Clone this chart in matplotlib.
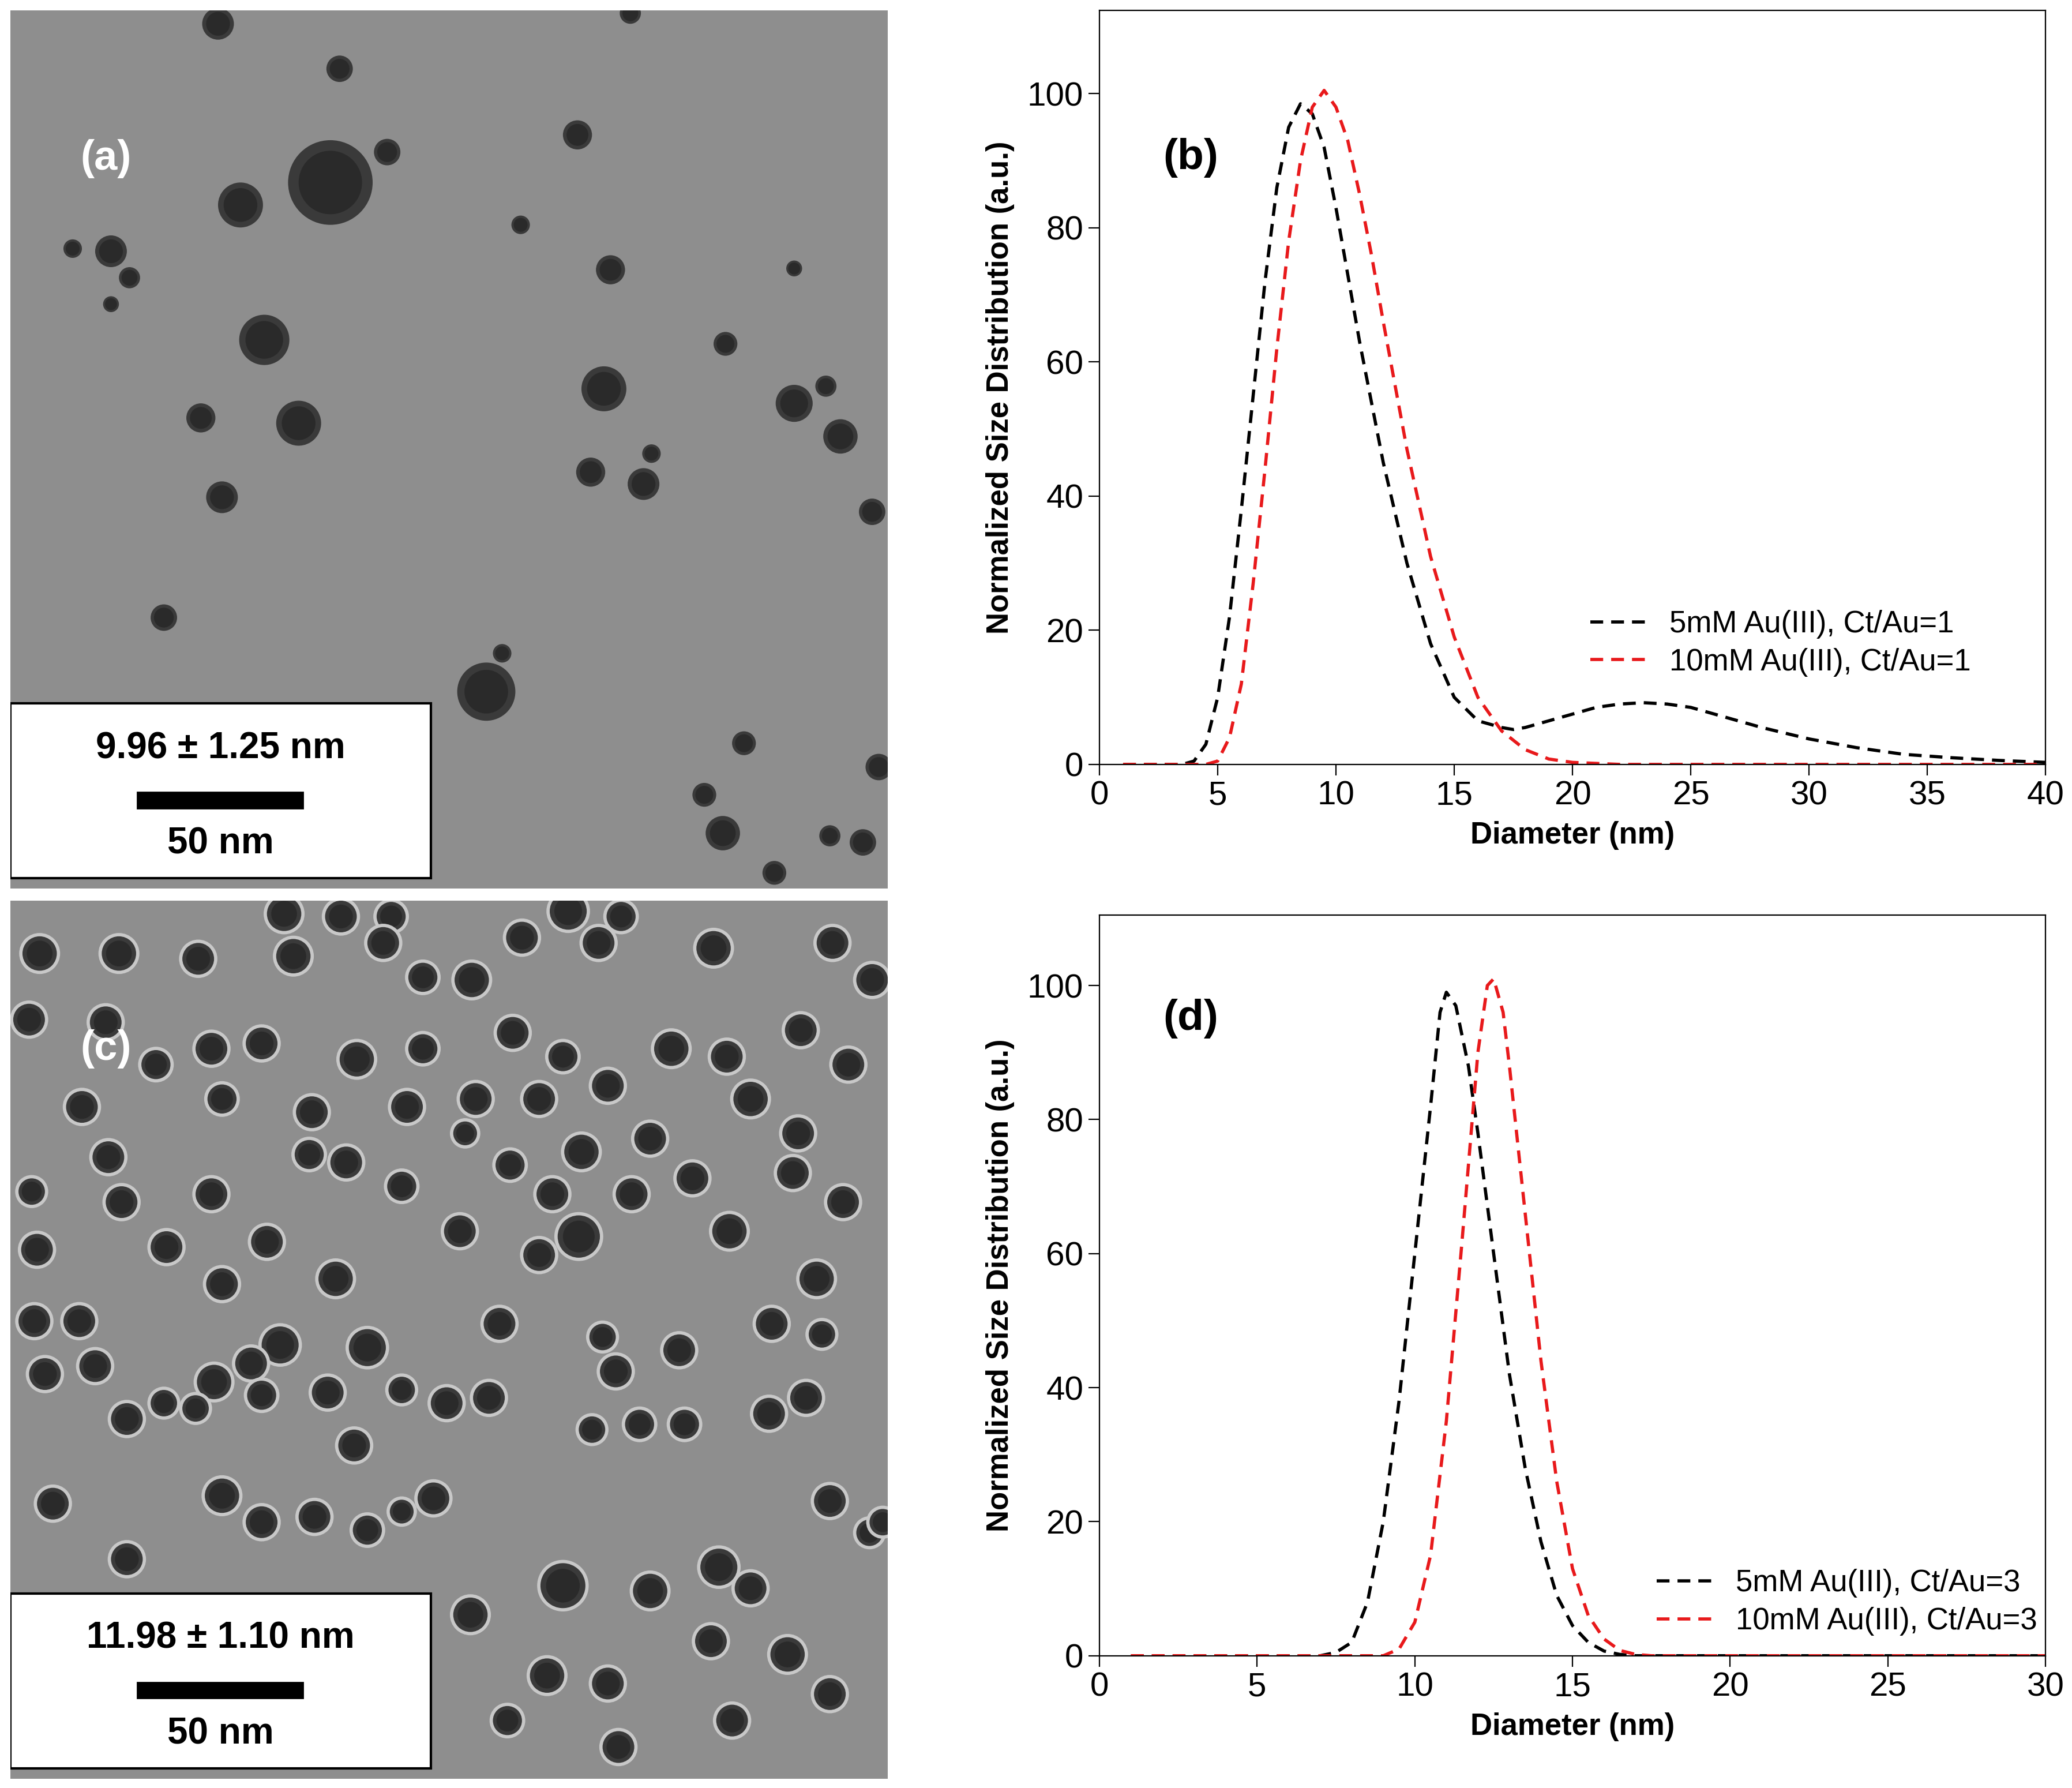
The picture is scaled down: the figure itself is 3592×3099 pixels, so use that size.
import numpy as np
import matplotlib.pyplot as plt
from matplotlib.patches import Circle, Rectangle

# ---- size distribution data ----
b_blk_x = [1, 3.5, 4, 4.5, 5, 5.5, 6, 6.5, 7, 7.5, 8, 8.5, 9, 9.5, 10, 10.5, 11, 12, 13, 14, 15, 16, 17, 17.5,
           18, 19, 20, 21, 22, 23, 24, 25, 26, 27, 28, 30, 32, 34, 36, 38, 40]
b_blk_y = [0, 0, 0.5, 3, 10, 22, 38, 55, 72, 86, 95, 98.5, 97, 92, 83, 73, 63, 45, 30, 18, 10, 6.5, 5.5, 5.2,
           5.5, 6.5, 7.5, 8.5, 9, 9.2, 9, 8.5, 7.5, 6.5, 5.5, 3.8, 2.5, 1.5, 1, 0.6, 0.3]
b_red_x = [1, 4.5, 5, 5.5, 6, 6.5, 7, 7.5, 8, 8.5, 9, 9.5, 10, 10.5, 11, 11.5, 12, 13, 14, 15, 16, 17, 18, 19,
           20, 22, 40]
b_red_y = [0, 0, 0.5, 4, 12, 27, 44, 62, 78, 90, 98, 100.5, 98, 93, 85, 76, 66, 47, 31, 19, 10, 5, 2.2, 0.8,
           0.3, 0, 0]
d_blk_x = [1, 7, 7.5, 8, 8.5, 9, 9.5, 10, 10.5, 10.8, 11, 11.3, 11.7, 12, 12.5, 13, 13.5, 14, 14.5, 15, 15.5,
           16, 16.5, 17, 30]
d_blk_y = [0, 0, 0.5, 2, 8, 20, 38, 60, 82, 96, 99, 97, 88, 78, 60, 42, 28, 17, 9, 4.5, 2, 0.7, 0.2, 0, 0]
d_red_x = [1, 9, 9.5, 10, 10.5, 11, 11.5, 12, 12.3, 12.5, 12.8, 13, 13.5, 14, 14.5, 15, 15.5, 16, 16.5, 17,
           17.5, 30]
d_red_y = [0, 0, 1, 5, 15, 35, 62, 90, 100, 101, 96, 88, 66, 44, 26, 13, 6, 2.5, 0.8, 0.2, 0, 0]

# ---- TEM particles (x, y, radius) in panel pixels ----
part_a = [(157, 10, 12), (249, 44, 10), (242, 130, 32), (174, 147, 17), (285, 107, 10), (429, 94, 11),
          (76, 182, 12), (47, 180, 7), (90, 202, 8), (76, 222, 6), (192, 249, 19), (386, 162, 7),
          (454, 196, 11), (593, 195, 6), (218, 312, 17), (144, 308, 11), (449, 286, 17), (541, 252, 9),
          (593, 297, 14), (617, 284, 8), (628, 322, 13), (439, 349, 11), (479, 358, 12), (485, 335, 7),
          (160, 368, 12), (652, 379, 10), (116, 459, 10), (360, 515, 22), (372, 486, 7), (555, 554, 9),
          (525, 593, 9), (539, 622, 13), (620, 624, 8), (645, 629, 10), (578, 652, 9), (469, 2, 8),
          (657, 572, 10)]
part_c = [(207, 10, 13), (250, 12, 12), (288, 12, 11), (422, 8, 14), (462, 12, 11), (22, 40, 13), (82, 40, 13),
          (142, 44, 12), (214, 42, 13), (282, 32, 12), (312, 58, 11), (349, 60, 13), (387, 28, 12),
          (445, 32, 12), (532, 36, 13), (622, 32, 12), (652, 60, 12), (14, 90, 12), (72, 92, 12),
          (110, 124, 11), (152, 112, 12), (190, 108, 12), (262, 120, 13), (312, 112, 11), (380, 100, 12),
          (418, 118, 11), (500, 112, 13), (542, 118, 12), (598, 98, 12), (634, 124, 12), (54, 156, 12),
          (160, 150, 11), (228, 160, 12), (300, 156, 12), (352, 150, 12), (400, 150, 12), (452, 140, 12),
          (484, 180, 12), (560, 150, 13), (596, 176, 12), (74, 194, 12), (226, 192, 11), (254, 198, 12),
          (344, 176, 9), (378, 200, 11), (432, 190, 13), (516, 210, 12), (592, 206, 12), (16, 220, 10),
          (84, 228, 12), (152, 222, 12), (296, 216, 11), (410, 222, 12), (430, 254, 16), (470, 222, 12),
          (544, 250, 13), (630, 228, 12), (20, 264, 12), (118, 262, 12), (194, 258, 12), (246, 286, 13),
          (340, 250, 12), (400, 268, 12), (610, 286, 13), (18, 318, 12), (52, 318, 12), (160, 290, 12),
          (204, 336, 14), (270, 338, 14), (370, 320, 12), (448, 330, 10), (506, 340, 12), (576, 320, 12),
          (614, 328, 10), (26, 358, 12), (64, 352, 12), (116, 380, 10), (154, 364, 13), (182, 350, 12),
          (190, 374, 11), (240, 372, 12), (296, 370, 10), (330, 380, 12), (362, 376, 12), (458, 356, 12),
          (510, 396, 11), (574, 388, 12), (602, 376, 12), (88, 392, 12), (140, 384, 10), (260, 412, 12),
          (440, 400, 10), (476, 396, 11), (32, 456, 12), (160, 450, 13), (190, 470, 12), (230, 466, 12),
          (270, 476, 11), (296, 462, 9), (320, 452, 12), (418, 518, 17), (484, 522, 13), (536, 504, 14),
          (560, 520, 12), (620, 454, 12), (650, 478, 10), (88, 498, 12), (348, 540, 13), (406, 586, 13),
          (452, 592, 12), (530, 560, 12), (588, 570, 13), (620, 600, 12), (546, 620, 12), (460, 640, 12),
          (376, 620, 11), (280, 616, 11), (302, 596, 10), (660, 470, 10)]
size_a = "9.96 ± 1.25 nm"
size_c = "11.98 ± 1.10 nm"

plt.rcParams['font.family'] = ['Liberation Sans', 'DejaVu Sans']
fig = plt.figure(figsize=(17.96, 15.495), dpi=200)
W, H = 1568, 1352


def tem_panel(rect, parts, label, size_txt, dark_ring):
    ax = fig.add_axes(rect)
    ax.set_facecolor("#8e8e8e")
    ax.set_xlim(0, 664); ax.set_ylim(664, 0)
    ax.set_xticks([]); ax.set_yticks([])
    for s in ax.spines.values():
        s.set_visible(False)
    for x, y, r in parts:
        if dark_ring:
            ax.add_patch(Circle((x, y), r + 2.5, color="#c8c8c8", lw=0))
        ax.add_patch(Circle((x, y), r, color="#3a3a3a", lw=0))
        ax.add_patch(Circle((x, y), r * 0.75, color="#2a2a2a", lw=0))
    ax.text(72, 112, label, color="white", fontsize=26, fontweight="bold", ha="center", va="center")
    ax.add_patch(Rectangle((0, 524), 318, 132, facecolor="white", edgecolor="black", lw=1.5))
    ax.text(159, 558, size_txt, fontsize=23, fontweight="bold", ha="center", va="center")
    ax.add_patch(Rectangle((96, 591), 125, 12, color="black"))
    ax.text(159, 630, "50 nm", fontsize=23, fontweight="bold", ha="center", va="center")


tem_panel([8 / W, 1 - 672 / H, 664 / W, 664 / H], part_a, "(a)", size_a, False)
tem_panel([8 / W, 1 - 1345 / H, 664 / W, 664 / H], part_c, "(c)", size_c, True)


def dist_panel(rect, bx, by, rx, ry, xmax, ymax, xt, label, lab_y, leg_tag, leg_loc):
    ax = fig.add_axes(rect)
    ax.plot(bx, by, color="black", ls=(0, (4, 2.5)), lw=2, label=f"5mM Au(III), Ct/Au={leg_tag}")
    ax.plot(rx, ry, color="#e8191b", ls=(0, (4, 2.5)), lw=2, label=f"10mM Au(III), Ct/Au={leg_tag}")
    ax.set_xlim(0, xmax); ax.set_ylim(0, ymax)
    ax.set_xticks(xt); ax.set_yticks([0, 20, 40, 60, 80, 100])
    ax.tick_params(labelsize=21, direction="out", length=7, pad=3)
    ax.set_xlabel("Diameter (nm)", fontsize=19, fontweight="bold", labelpad=6)
    ax.set_ylabel("Normalized Size Distribution (a.u.)", fontsize=19, fontweight="bold", labelpad=8)
    ax.text(0.067, lab_y, label, transform=ax.transAxes, fontsize=27, fontweight="bold", va="center")
    ax.legend(loc="lower right", bbox_to_anchor=leg_loc, frameon=False, fontsize=19,
              handlelength=1.8, labelspacing=0.3)


dist_panel([832 / W, 1 - 578 / H, 716 / W, 570 / H], b_blk_x, b_blk_y, b_red_x, b_red_y,
           40, 112.4, range(0, 41, 5), "(b)", 0.805, 1, (0.95, 0.08))
dist_panel([832 / W, 1 - 1252 / H, 716 / W, 560 / H], d_blk_x, d_blk_y, d_red_x, d_red_y,
           30, 110.5, range(0, 31, 5), "(d)", 0.86, 3, (1.02, -0.01))

fig.savefig("out.png", dpi=200)
